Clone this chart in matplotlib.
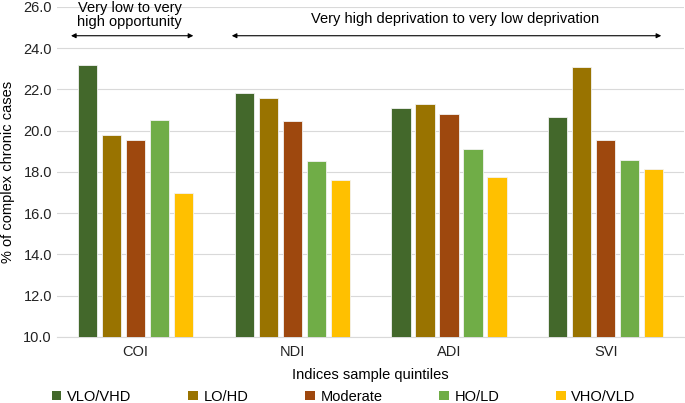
import numpy as np
import matplotlib.pyplot as plt
from matplotlib.patches import Patch

plt.rcParams.update({
    "font.family": ["Liberation Sans", "DejaVu Sans"],
    "font.size": 10.5,
})

# Data
indices = ["COI", "NDI", "ADI", "SVI"]
quintiles = ["VLO/VHD", "LO/HD", "Moderate", "HO/LD", "VHO/VLD"]
vlo_vhd = [23.2, 21.8, 21.1, 20.65]
lo_hd = [19.8, 21.6, 21.3, 23.1]
moderate = [19.55, 20.45, 20.8, 19.55]
ho_ld = [20.5, 18.55, 19.1, 18.6]
vho_vld = [17.0, 17.6, 17.75, 18.15]
series = [vlo_vhd, lo_hd, moderate, ho_ld, vho_vld]
colors = ["#43682B", "#997300", "#9E480E", "#70AD47", "#FFC000"]
yticks = np.arange(10, 26.1, 2)

fig = plt.figure(figsize=(6.85, 4.03), dpi=100)
ax = fig.add_axes([0.083, 0.164, 0.916, 0.819])

x = np.arange(len(indices))
step = 0.153
width = 0.122
for i, (vals, c) in enumerate(zip(series, colors)):
    ax.bar(x + (i - 2) * step, vals, width, bottom=0, color=c,
           edgecolor="#f2f2f2", linewidth=0.6, zorder=3)

ax.set_ylim(10, 26)
ax.set_xlim(-0.5, 3.5)
ax.set_yticks(yticks, [f"{v:.1f}" for v in yticks])
ax.set_xticks(x, indices)
ax.tick_params(axis="both", length=0, labelsize=10.5, colors="#222222")
ax.tick_params(axis="x", pad=6)
ax.grid(axis="y", color="#d9d9d9", linewidth=0.8, zorder=0)
for s in ["left", "right", "top"]:
    ax.spines[s].set_visible(False)
ax.spines["bottom"].set_color("#d9d9d9")
ax.set_ylabel("% of complex chronic cases", labelpad=6)
ax.set_xlabel("Indices sample quintiles", labelpad=6)

# Direction annotations
ax.annotate("", xy=(-0.41, 24.6), xytext=(0.37, 24.6),
            arrowprops=dict(arrowstyle="<|-|>", color="black", lw=0.8,
                            mutation_scale=7, shrinkA=0, shrinkB=0))
ax.text(-0.035, 25.6, "Very low to very\nhigh opportunity", ha="center",
        va="center", linespacing=1.05)
ax.annotate("", xy=(0.615, 24.6), xytext=(3.353, 24.6),
            arrowprops=dict(arrowstyle="<|-|>", color="black", lw=0.8,
                            mutation_scale=7, shrinkA=0, shrinkB=0))
ax.text(2.04, 25.39, "Very high deprivation to very low deprivation",
        ha="center", va="center")

handles = [Patch(facecolor=c, edgecolor="none") for c in colors]
fig.legend(handles, quintiles, loc="center", bbox_to_anchor=(0.502, 0.016),
           ncol=5, frameon=False, handlelength=0.64, handleheight=0.64,
           handletextpad=0.4, columnspacing=3.9)

fig.savefig("out.png", dpi=100)
